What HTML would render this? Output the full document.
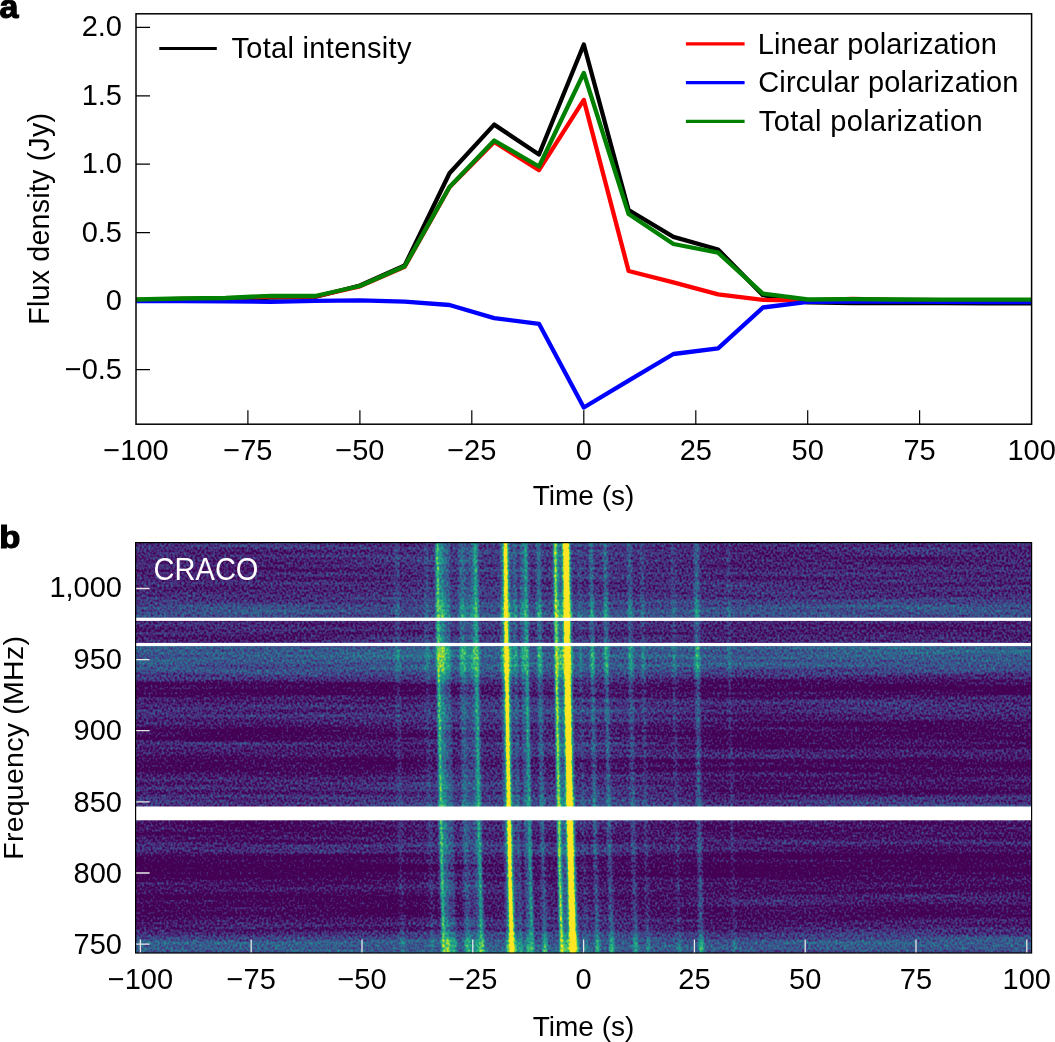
<!DOCTYPE html>
<html><head><meta charset="utf-8"><style>
html,body{margin:0;padding:0;background:#fff;width:1055px;height:1042px;overflow:hidden}
svg{display:block;will-change:transform}
text{font-family:"Liberation Sans", sans-serif;fill:#000}
</style></head><body>
<svg width="1055" height="1042" viewBox="0 0 1055 1042">

<text x="-0.6" y="17.9" style="font-weight:bold;font-size:34px;stroke:#000;stroke-width:1.2px">a</text>
<text transform="translate(-0.7,548.3) scale(1.08,1)" style="font-weight:bold;font-size:32px;stroke:#000;stroke-width:1.2px">b</text>
<text x="122" y="36.4" text-anchor="end" style="font-size:29px">2.0</text>
<text x="122" y="104.9" text-anchor="end" style="font-size:29px">1.5</text>
<text x="122" y="173.3" text-anchor="end" style="font-size:29px">1.0</text>
<text x="122" y="241.8" text-anchor="end" style="font-size:29px">0.5</text>
<text x="122" y="310.3" text-anchor="end" style="font-size:29px">0</text>
<text x="122" y="378.8" text-anchor="end" style="font-size:29px">−0.5</text>
<text x="136.0" y="460.4" text-anchor="middle" style="font-size:29px">−100</text>
<text x="247.9" y="460.4" text-anchor="middle" style="font-size:29px">−75</text>
<text x="359.9" y="460.4" text-anchor="middle" style="font-size:29px">−50</text>
<text x="471.8" y="460.4" text-anchor="middle" style="font-size:29px">−25</text>
<text x="583.8" y="460.4" text-anchor="middle" style="font-size:29px">0</text>
<text x="695.8" y="460.4" text-anchor="middle" style="font-size:29px">25</text>
<text x="807.7" y="460.4" text-anchor="middle" style="font-size:29px">50</text>
<text x="919.6" y="460.4" text-anchor="middle" style="font-size:29px">75</text>
<text x="1031.6" y="460.4" text-anchor="middle" style="font-size:29px">100</text>
<text x="583.5" y="504.9" text-anchor="middle" style="font-size:28px">Time (s)</text>
<text transform="translate(48.9,218.8) rotate(-90)" x="0" y="0" text-anchor="middle" style="font-size:28.6px;letter-spacing:0.22px">Flux density (Jy)</text>
<path d="M136 27.3H150 M136 95.8H150 M136 164.2H150 M136 232.7H150 M136 301.2H150 M136 369.7H150 M247.9 424.2V410.2 M359.9 424.2V410.2 M471.8 424.2V410.2 M583.8 424.2V410.2 M695.8 424.2V410.2 M807.7 424.2V410.2 M919.6 424.2V410.2" stroke="#000" stroke-width="1.2" fill="none"/>
<g fill="none" stroke-width="4.3" stroke-linejoin="round" stroke-linecap="butt">
<polyline points="136.0,300.5 180.8,300.0 225.6,299.5 270.3,297.5 315.1,297.0 359.9,285.5 404.7,265.5 449.5,173.3 494.2,124.6 539.0,154.5 583.8,44.5 628.6,210.0 673.4,236.9 718.1,249.5 762.9,295.2 807.7,302.3 852.5,303.0 897.3,303.0 942.0,303.2 986.8,303.3 1031.6,303.4" stroke="#000"/>
<polyline points="136.0,300.0 180.8,299.0 225.6,298.5 270.3,296.5 315.1,296.5 359.9,286.3 404.7,266.8 449.5,187.3 494.2,142.0 539.0,170.2 583.8,99.9 628.6,271.0 673.4,282.4 718.1,294.4 762.9,299.8 807.7,300.5 852.5,298.8 897.3,299.8 942.0,300.2 986.8,300.2 1031.6,300.2" stroke="#f00"/>
<polyline points="136.0,301.0 180.8,301.2 225.6,301.4 270.3,301.8 315.1,300.8 359.9,300.3 404.7,301.6 449.5,305.0 494.2,318.1 539.0,323.8 583.8,407.5 628.6,380.7 673.4,354.0 718.1,348.3 762.9,307.5 807.7,301.8 852.5,301.5 897.3,301.6 942.0,301.8 986.8,302.0 1031.6,302.2" stroke="#00f"/>
<polyline points="136.0,299.5 180.8,298.5 225.6,298.0 270.3,295.8 315.1,296.0 359.9,286.0 404.7,266.3 449.5,187.0 494.2,140.5 539.0,166.5 583.8,73.0 628.6,214.0 673.4,244.0 718.1,252.7 762.9,293.7 807.7,299.5 852.5,299.2 897.3,299.5 942.0,299.6 986.8,299.7 1031.6,299.7" stroke="#008000"/>
</g>
<g stroke-width="3.2">
<path d="M159.3 48.5H216.8" stroke="#000"/>
<path d="M685.9 43.8H744.6" stroke="#f00"/>
<path d="M685.9 82.6H744.6" stroke="#00f"/>
<path d="M685.9 121.4H744.6" stroke="#008000"/>
</g>
<text x="231.5" y="58" style="font-size:29px;letter-spacing:0.3px">Total intensity</text>
<text x="757.8" y="53.5" style="font-size:29px;letter-spacing:0.12px">Linear polarization</text>
<text x="758.2" y="92.2" style="font-size:29px;letter-spacing:0.2px">Circular polarization</text>
<text x="758.8" y="131" style="font-size:29px;letter-spacing:0.36px">Total polarization</text>
<rect x="136" y="13.8" width="895.5999999999999" height="410.4" fill="none" stroke="#000" stroke-width="1.5"/>
<defs>
<filter id="vf" x="135.6" y="542.6" width="895.9999999999999" height="410.4" filterUnits="userSpaceOnUse" color-interpolation-filters="sRGB">
<feTurbulence type="fractalNoise" baseFrequency="0.45 0.4" numOctaves="1" seed="7" result="n"/>
<feColorMatrix in="n" type="matrix" values="1 0 0 0 0 1 0 0 0 0 1 0 0 0 0 0 0 0 0 1" result="ng"/>
<feTurbulence type="fractalNoise" baseFrequency="0.006 0.22" numOctaves="1" seed="11" result="n2"/>
<feColorMatrix in="n2" type="matrix" values="1 0 0 0 0 1 0 0 0 0 1 0 0 0 0 0 0 0 0 1" result="ng2"/>
<feComposite in="ng" in2="ng2" operator="arithmetic" k1="0" k2="0.43" k3="0.17" k4="0.2" result="nn"/>
<feComposite in="SourceGraphic" in2="nn" operator="arithmetic" k1="0" k2="1" k3="1" k4="-0.5" result="sum"/>
<feComponentTransfer in="sum">
<feFuncR type="table" tableValues="0.267 0.267 0.267 0.267 0.267 0.267 0.267 0.267 0.267 0.267 0.270 0.277 0.281 0.283 0.283 0.280 0.274 0.267 0.257 0.247 0.236 0.224 0.214 0.203 0.192 0.182 0.173 0.164 0.155 0.146 0.139 0.131 0.124 0.120 0.120 0.126 0.140 0.162 0.191 0.220 0.260 0.304 0.352 0.404 0.459 0.516 0.576 0.627 0.689 0.752 0.815 0.876 0.936 0.993 0.993 0.993 0.993 0.993 0.993 0.993 0.993 0.993 0.993 0.993 0.993"/>
<feFuncG type="table" tableValues="0.005 0.005 0.005 0.005 0.005 0.005 0.005 0.005 0.005 0.005 0.015 0.050 0.084 0.116 0.141 0.171 0.200 0.228 0.256 0.283 0.310 0.335 0.356 0.380 0.403 0.426 0.449 0.471 0.493 0.515 0.534 0.556 0.578 0.600 0.622 0.644 0.666 0.687 0.708 0.726 0.745 0.765 0.783 0.800 0.816 0.831 0.845 0.855 0.865 0.875 0.883 0.891 0.899 0.906 0.906 0.906 0.906 0.906 0.906 0.906 0.906 0.906 0.906 0.906 0.906"/>
<feFuncB type="table" tableValues="0.329 0.329 0.329 0.329 0.329 0.329 0.329 0.329 0.329 0.329 0.341 0.376 0.407 0.436 0.458 0.480 0.499 0.514 0.527 0.536 0.543 0.548 0.551 0.554 0.556 0.557 0.558 0.558 0.558 0.557 0.555 0.552 0.548 0.543 0.535 0.525 0.513 0.499 0.482 0.466 0.444 0.420 0.393 0.363 0.330 0.294 0.256 0.223 0.183 0.143 0.110 0.095 0.108 0.144 0.144 0.144 0.144 0.144 0.144 0.144 0.144 0.144 0.144 0.144 0.144"/>
</feComponentTransfer>
</filter>
<filter id="sb" x="135.6" y="542.6" width="895.9999999999999" height="410.4" filterUnits="userSpaceOnUse" color-interpolation-filters="sRGB">
<feGaussianBlur stdDeviation="0.9"/>
</filter>

<linearGradient id="bgl" gradientUnits="userSpaceOnUse" x1="0" y1="542.6" x2="0" y2="953.0">
<stop offset="0.0000" stop-color="rgb(61,61,61)"/>
<stop offset="0.0327" stop-color="rgb(59,59,59)"/>
<stop offset="0.0473" stop-color="rgb(54,54,54)"/>
<stop offset="0.1204" stop-color="rgb(56,56,56)"/>
<stop offset="0.1447" stop-color="rgb(68,68,68)"/>
<stop offset="0.1642" stop-color="rgb(76,76,76)"/>
<stop offset="0.1825" stop-color="rgb(80,80,80)"/>
<stop offset="0.1918" stop-color="rgb(56,56,56)"/>
<stop offset="0.2178" stop-color="rgb(52,52,52)"/>
<stop offset="0.2446" stop-color="rgb(56,56,56)"/>
<stop offset="0.2519" stop-color="rgb(87,87,87)"/>
<stop offset="0.2861" stop-color="rgb(87,87,87)"/>
<stop offset="0.3104" stop-color="rgb(80,80,80)"/>
<stop offset="0.3275" stop-color="rgb(66,66,66)"/>
<stop offset="0.3421" stop-color="rgb(45,45,45)"/>
<stop offset="0.3494" stop-color="rgb(33,33,33)"/>
<stop offset="0.3713" stop-color="rgb(35,35,35)"/>
<stop offset="0.3811" stop-color="rgb(54,54,54)"/>
<stop offset="0.4128" stop-color="rgb(59,59,59)"/>
<stop offset="0.4371" stop-color="rgb(57,57,57)"/>
<stop offset="0.4493" stop-color="rgb(43,43,43)"/>
<stop offset="0.4639" stop-color="rgb(37,37,37)"/>
<stop offset="0.4810" stop-color="rgb(38,38,38)"/>
<stop offset="0.4907" stop-color="rgb(59,59,59)"/>
<stop offset="0.5005" stop-color="rgb(52,52,52)"/>
<stop offset="0.5175" stop-color="rgb(50,50,50)"/>
<stop offset="0.5273" stop-color="rgb(35,35,35)"/>
<stop offset="0.5517" stop-color="rgb(35,35,35)"/>
<stop offset="0.5663" stop-color="rgb(50,50,50)"/>
<stop offset="0.5955" stop-color="rgb(56,56,56)"/>
<stop offset="0.6150" stop-color="rgb(56,56,56)"/>
<stop offset="0.6321" stop-color="rgb(64,64,64)"/>
<stop offset="0.6430" stop-color="rgb(66,66,66)"/>
<stop offset="0.6767" stop-color="rgb(45,45,45)"/>
<stop offset="0.7125" stop-color="rgb(42,42,42)"/>
<stop offset="0.7271" stop-color="rgb(45,45,45)"/>
<stop offset="0.7368" stop-color="rgb(61,61,61)"/>
<stop offset="0.7539" stop-color="rgb(59,59,59)"/>
<stop offset="0.7636" stop-color="rgb(31,31,31)"/>
<stop offset="0.8173" stop-color="rgb(30,30,30)"/>
<stop offset="0.8319" stop-color="rgb(45,45,45)"/>
<stop offset="0.8489" stop-color="rgb(45,45,45)"/>
<stop offset="0.8587" stop-color="rgb(35,35,35)"/>
<stop offset="0.9074" stop-color="rgb(37,37,37)"/>
<stop offset="0.9196" stop-color="rgb(47,47,47)"/>
<stop offset="0.9440" stop-color="rgb(50,50,50)"/>
<stop offset="0.9586" stop-color="rgb(66,66,66)"/>
<stop offset="0.9732" stop-color="rgb(87,87,87)"/>
<stop offset="0.9927" stop-color="rgb(90,90,90)"/>
<stop offset="1.0000" stop-color="rgb(82,82,82)"/>
</linearGradient>
<linearGradient id="bgr" gradientUnits="userSpaceOnUse" x1="0" y1="542.6" x2="0" y2="953.0">
<stop offset="0.0000" stop-color="rgb(61,61,61)"/>
<stop offset="0.0229" stop-color="rgb(59,59,59)"/>
<stop offset="0.0375" stop-color="rgb(50,50,50)"/>
<stop offset="0.0546" stop-color="rgb(56,56,56)"/>
<stop offset="0.1155" stop-color="rgb(57,57,57)"/>
<stop offset="0.1399" stop-color="rgb(66,66,66)"/>
<stop offset="0.1545" stop-color="rgb(78,78,78)"/>
<stop offset="0.1825" stop-color="rgb(82,82,82)"/>
<stop offset="0.1918" stop-color="rgb(56,56,56)"/>
<stop offset="0.2178" stop-color="rgb(52,52,52)"/>
<stop offset="0.2446" stop-color="rgb(57,57,57)"/>
<stop offset="0.2519" stop-color="rgb(90,90,90)"/>
<stop offset="0.2812" stop-color="rgb(90,90,90)"/>
<stop offset="0.3056" stop-color="rgb(78,78,78)"/>
<stop offset="0.3250" stop-color="rgb(64,64,64)"/>
<stop offset="0.3372" stop-color="rgb(42,42,42)"/>
<stop offset="0.3543" stop-color="rgb(31,31,31)"/>
<stop offset="0.3689" stop-color="rgb(37,37,37)"/>
<stop offset="0.3811" stop-color="rgb(56,56,56)"/>
<stop offset="0.4030" stop-color="rgb(61,61,61)"/>
<stop offset="0.4225" stop-color="rgb(57,57,57)"/>
<stop offset="0.4347" stop-color="rgb(38,38,38)"/>
<stop offset="0.4688" stop-color="rgb(40,40,40)"/>
<stop offset="0.4932" stop-color="rgb(38,38,38)"/>
<stop offset="0.5054" stop-color="rgb(52,52,52)"/>
<stop offset="0.5249" stop-color="rgb(50,50,50)"/>
<stop offset="0.5346" stop-color="rgb(35,35,35)"/>
<stop offset="0.5541" stop-color="rgb(35,35,35)"/>
<stop offset="0.5663" stop-color="rgb(47,47,47)"/>
<stop offset="0.5931" stop-color="rgb(47,47,47)"/>
<stop offset="0.6028" stop-color="rgb(37,37,37)"/>
<stop offset="0.6174" stop-color="rgb(56,56,56)"/>
<stop offset="0.6321" stop-color="rgb(66,66,66)"/>
<stop offset="0.6430" stop-color="rgb(68,68,68)"/>
<stop offset="0.6767" stop-color="rgb(49,49,49)"/>
<stop offset="0.7003" stop-color="rgb(47,47,47)"/>
<stop offset="0.7125" stop-color="rgb(38,38,38)"/>
<stop offset="0.7247" stop-color="rgb(52,52,52)"/>
<stop offset="0.7442" stop-color="rgb(52,52,52)"/>
<stop offset="0.7539" stop-color="rgb(33,33,33)"/>
<stop offset="0.7978" stop-color="rgb(31,31,31)"/>
<stop offset="0.8221" stop-color="rgb(42,42,42)"/>
<stop offset="0.8514" stop-color="rgb(42,42,42)"/>
<stop offset="0.8635" stop-color="rgb(52,52,52)"/>
<stop offset="0.8830" stop-color="rgb(50,50,50)"/>
<stop offset="0.8928" stop-color="rgb(38,38,38)"/>
<stop offset="0.9123" stop-color="rgb(40,40,40)"/>
<stop offset="0.9220" stop-color="rgb(50,50,50)"/>
<stop offset="0.9415" stop-color="rgb(52,52,52)"/>
<stop offset="0.9537" stop-color="rgb(69,69,69)"/>
<stop offset="0.9732" stop-color="rgb(87,87,87)"/>
<stop offset="0.9878" stop-color="rgb(87,87,87)"/>
<stop offset="1.0000" stop-color="rgb(76,76,76)"/>
</linearGradient>
<linearGradient id="hb" gradientUnits="userSpaceOnUse" x1="600" y1="0" x2="780" y2="0"><stop offset="0" stop-color="#000"/><stop offset="1" stop-color="#fff"/></linearGradient>
<mask id="hbm" maskUnits="userSpaceOnUse" x="135.6" y="542.6" width="895.9999999999999" height="410.4"><rect x="135.6" y="542.6" width="895.9999999999999" height="410.4" fill="url(#hb)"/></mask>
<linearGradient id="dg" gradientUnits="userSpaceOnUse" x1="135.6" y1="0" x2="1031.6" y2="0">
<stop offset="0.0000" stop-color="rgb(0,0,0)"/>
<stop offset="0.2951" stop-color="rgb(0,0,0)"/>
<stop offset="0.3342" stop-color="rgb(36,36,36)"/>
<stop offset="0.3732" stop-color="rgb(56,56,56)"/>
<stop offset="0.5183" stop-color="rgb(56,56,56)"/>
<stop offset="0.5629" stop-color="rgb(31,31,31)"/>
<stop offset="0.6299" stop-color="rgb(15,15,15)"/>
<stop offset="0.6690" stop-color="rgb(0,0,0)"/>
</linearGradient>
<mask id="dgm" maskUnits="userSpaceOnUse" x="135.6" y="542.6" width="895.9999999999999" height="410.4"><rect x="135.6" y="542.6" width="895.9999999999999" height="410.4" fill="url(#dg)"/></mask>
<linearGradient id="mg" gradientUnits="userSpaceOnUse" x1="0" y1="542.6" x2="0" y2="953.0">
<stop offset="0.0000" stop-color="rgb(203,203,203)"/>
<stop offset="0.0327" stop-color="rgb(199,199,199)"/>
<stop offset="0.0473" stop-color="rgb(187,187,187)"/>
<stop offset="0.1204" stop-color="rgb(191,191,191)"/>
<stop offset="0.1447" stop-color="rgb(218,218,218)"/>
<stop offset="0.1642" stop-color="rgb(237,237,237)"/>
<stop offset="0.1825" stop-color="rgb(245,245,245)"/>
<stop offset="0.1918" stop-color="rgb(191,191,191)"/>
<stop offset="0.2178" stop-color="rgb(184,184,184)"/>
<stop offset="0.2446" stop-color="rgb(191,191,191)"/>
<stop offset="0.2519" stop-color="rgb(255,255,255)"/>
<stop offset="0.2861" stop-color="rgb(255,255,255)"/>
<stop offset="0.3104" stop-color="rgb(245,245,245)"/>
<stop offset="0.3275" stop-color="rgb(214,214,214)"/>
<stop offset="0.3421" stop-color="rgb(168,168,168)"/>
<stop offset="0.3494" stop-color="rgb(142,142,142)"/>
<stop offset="0.3713" stop-color="rgb(145,145,145)"/>
<stop offset="0.3811" stop-color="rgb(187,187,187)"/>
<stop offset="0.4128" stop-color="rgb(199,199,199)"/>
<stop offset="0.4371" stop-color="rgb(195,195,195)"/>
<stop offset="0.4493" stop-color="rgb(164,164,164)"/>
<stop offset="0.4639" stop-color="rgb(149,149,149)"/>
<stop offset="0.4810" stop-color="rgb(153,153,153)"/>
<stop offset="0.4907" stop-color="rgb(199,199,199)"/>
<stop offset="0.5005" stop-color="rgb(184,184,184)"/>
<stop offset="0.5175" stop-color="rgb(180,180,180)"/>
<stop offset="0.5273" stop-color="rgb(145,145,145)"/>
<stop offset="0.5517" stop-color="rgb(145,145,145)"/>
<stop offset="0.5663" stop-color="rgb(180,180,180)"/>
<stop offset="0.5955" stop-color="rgb(191,191,191)"/>
<stop offset="0.6150" stop-color="rgb(191,191,191)"/>
<stop offset="0.6321" stop-color="rgb(210,210,210)"/>
<stop offset="0.6430" stop-color="rgb(214,214,214)"/>
<stop offset="0.6767" stop-color="rgb(168,168,168)"/>
<stop offset="0.7125" stop-color="rgb(161,161,161)"/>
<stop offset="0.7271" stop-color="rgb(168,168,168)"/>
<stop offset="0.7368" stop-color="rgb(203,203,203)"/>
<stop offset="0.7539" stop-color="rgb(199,199,199)"/>
<stop offset="0.7636" stop-color="rgb(138,138,138)"/>
<stop offset="0.8173" stop-color="rgb(134,134,134)"/>
<stop offset="0.8319" stop-color="rgb(168,168,168)"/>
<stop offset="0.8489" stop-color="rgb(168,168,168)"/>
<stop offset="0.8587" stop-color="rgb(145,145,145)"/>
<stop offset="0.9074" stop-color="rgb(149,149,149)"/>
<stop offset="0.9196" stop-color="rgb(172,172,172)"/>
<stop offset="0.9440" stop-color="rgb(180,180,180)"/>
<stop offset="0.9586" stop-color="rgb(214,214,214)"/>
<stop offset="0.9732" stop-color="rgb(255,255,255)"/>
<stop offset="0.9927" stop-color="rgb(255,255,255)"/>
<stop offset="1.0000" stop-color="rgb(249,249,249)"/>
</linearGradient>
<linearGradient id="bmg" gradientUnits="userSpaceOnUse" x1="0" y1="542.6" x2="0" y2="953.0">
<stop offset="0.0000" stop-color="rgb(13,13,13)"/>
<stop offset="0.0327" stop-color="rgb(0,0,0)"/>
<stop offset="0.0473" stop-color="rgb(0,0,0)"/>
<stop offset="0.1204" stop-color="rgb(0,0,0)"/>
<stop offset="0.1447" stop-color="rgb(64,64,64)"/>
<stop offset="0.1642" stop-color="rgb(128,128,128)"/>
<stop offset="0.1825" stop-color="rgb(153,153,153)"/>
<stop offset="0.1918" stop-color="rgb(0,0,0)"/>
<stop offset="0.2178" stop-color="rgb(0,0,0)"/>
<stop offset="0.2446" stop-color="rgb(0,0,0)"/>
<stop offset="0.2519" stop-color="rgb(204,204,204)"/>
<stop offset="0.2861" stop-color="rgb(204,204,204)"/>
<stop offset="0.3104" stop-color="rgb(153,153,153)"/>
<stop offset="0.3275" stop-color="rgb(51,51,51)"/>
<stop offset="0.3421" stop-color="rgb(0,0,0)"/>
<stop offset="0.3494" stop-color="rgb(0,0,0)"/>
<stop offset="0.3713" stop-color="rgb(0,0,0)"/>
<stop offset="0.3811" stop-color="rgb(0,0,0)"/>
<stop offset="0.4128" stop-color="rgb(0,0,0)"/>
<stop offset="0.4371" stop-color="rgb(0,0,0)"/>
<stop offset="0.4493" stop-color="rgb(0,0,0)"/>
<stop offset="0.4639" stop-color="rgb(0,0,0)"/>
<stop offset="0.4810" stop-color="rgb(0,0,0)"/>
<stop offset="0.4907" stop-color="rgb(0,0,0)"/>
<stop offset="0.5005" stop-color="rgb(0,0,0)"/>
<stop offset="0.5175" stop-color="rgb(0,0,0)"/>
<stop offset="0.5273" stop-color="rgb(0,0,0)"/>
<stop offset="0.5517" stop-color="rgb(0,0,0)"/>
<stop offset="0.5663" stop-color="rgb(0,0,0)"/>
<stop offset="0.5955" stop-color="rgb(0,0,0)"/>
<stop offset="0.6150" stop-color="rgb(0,0,0)"/>
<stop offset="0.6321" stop-color="rgb(38,38,38)"/>
<stop offset="0.6430" stop-color="rgb(51,51,51)"/>
<stop offset="0.6767" stop-color="rgb(0,0,0)"/>
<stop offset="0.7125" stop-color="rgb(0,0,0)"/>
<stop offset="0.7271" stop-color="rgb(0,0,0)"/>
<stop offset="0.7368" stop-color="rgb(13,13,13)"/>
<stop offset="0.7539" stop-color="rgb(0,0,0)"/>
<stop offset="0.7636" stop-color="rgb(0,0,0)"/>
<stop offset="0.8173" stop-color="rgb(0,0,0)"/>
<stop offset="0.8319" stop-color="rgb(0,0,0)"/>
<stop offset="0.8489" stop-color="rgb(0,0,0)"/>
<stop offset="0.8587" stop-color="rgb(0,0,0)"/>
<stop offset="0.9074" stop-color="rgb(0,0,0)"/>
<stop offset="0.9196" stop-color="rgb(0,0,0)"/>
<stop offset="0.9440" stop-color="rgb(0,0,0)"/>
<stop offset="0.9586" stop-color="rgb(51,51,51)"/>
<stop offset="0.9732" stop-color="rgb(204,204,204)"/>
<stop offset="0.9927" stop-color="rgb(229,229,229)"/>
<stop offset="1.0000" stop-color="rgb(166,166,166)"/>
</linearGradient>
<mask id="bm" maskUnits="userSpaceOnUse" x="135.6" y="542.6" width="895.9999999999999" height="410.4"><rect x="135.6" y="542.6" width="895.9999999999999" height="410.4" fill="url(#bmg)"/></mask>
<mask id="mm" maskUnits="userSpaceOnUse" x="135.6" y="542.6" width="895.9999999999999" height="410.4"><rect x="135.6" y="542.6" width="895.9999999999999" height="410.4" fill="url(#mg)"/></mask>
</defs>
<g filter="url(#vf)">
<rect x="135.6" y="542.6" width="895.9999999999999" height="410.4" fill="url(#bgl)"/>
<rect x="135.6" y="542.6" width="895.9999999999999" height="410.4" fill="url(#bgr)" mask="url(#hbm)"/>
<rect x="135.6" y="542.6" width="895.9999999999999" height="410.4" fill="rgb(99,99,99)" mask="url(#dgm)"/>
<g filter="url(#sb)" mask="url(#mm)">
<path d="M394.0 542.6 L394.3 576.8 L394.7 611.0 L395.1 645.2 L395.5 679.4 L396.0 713.6 L396.5 747.8 L397.0 782.0 L397.6 816.2 L398.2 850.4 L398.9 884.6 L399.7 918.8 L400.5 953.0 L405.5 953.0 L404.7 918.8 L403.9 884.6 L403.2 850.4 L402.6 816.2 L402.0 782.0 L401.5 747.8 L401.0 713.6 L400.5 679.4 L400.1 645.2 L399.7 611.0 L399.3 576.8 L399.0 542.6Z" fill="rgb(90,90,90)" opacity="0.6"/>
<path d="M424.0 542.6 L424.3 576.8 L424.7 611.0 L425.1 645.2 L425.5 679.4 L426.0 713.6 L426.5 747.8 L427.0 782.0 L427.6 816.2 L428.2 850.4 L428.9 884.6 L429.7 918.8 L430.5 953.0 L434.5 953.0 L433.7 918.8 L432.9 884.6 L432.2 850.4 L431.6 816.2 L431.0 782.0 L430.5 747.8 L430.0 713.6 L429.5 679.4 L429.1 645.2 L428.7 611.0 L428.3 576.8 L428.0 542.6Z" fill="rgb(90,90,90)" opacity="0.6"/>
<path d="M435.0 542.6 L435.3 576.8 L435.7 611.0 L436.1 645.2 L436.5 679.4 L437.0 713.6 L437.5 747.8 L438.0 782.0 L438.6 816.2 L439.2 850.4 L439.9 884.6 L440.7 918.8 L441.5 953.0 L456.5 953.0 L455.5 918.8 L454.7 884.6 L453.9 850.4 L453.1 816.2 L452.5 782.0 L451.8 747.8 L451.3 713.6 L450.7 679.4 L450.3 645.2 L449.8 611.0 L449.4 576.8 L449.0 542.6Z" fill="rgb(111,111,111)" opacity="0.8"/>
<path d="M440.3 542.6 L440.6 576.8 L441.0 611.0 L441.4 645.2 L441.8 679.4 L442.3 713.6 L442.8 747.8 L443.3 782.0 L443.9 816.2 L444.5 850.4 L445.2 884.6 L446.0 918.8 L446.8 953.0 L449.2 953.0 L448.4 918.8 L447.6 884.6 L446.9 850.4 L446.3 816.2 L445.7 782.0 L445.2 747.8 L444.7 713.6 L444.2 679.4 L443.8 645.2 L443.4 611.0 L443.0 576.8 L442.7 542.6Z" fill="rgb(163,163,163)" opacity="0.9"/>
<path d="M459.0 542.6 L459.3 576.8 L459.6 611.0 L460.0 645.2 L460.4 679.4 L460.8 713.6 L461.3 747.8 L461.8 782.0 L462.3 816.2 L462.9 850.4 L463.5 884.6 L464.2 918.8 L465.0 953.0 L485.0 953.0 L484.0 918.8 L483.0 884.6 L482.2 850.4 L481.4 816.2 L480.7 782.0 L480.0 747.8 L479.4 713.6 L478.9 679.4 L478.3 645.2 L477.9 611.0 L477.4 576.8 L477.0 542.6Z" fill="rgb(97,97,97)" opacity="0.6"/>
<path d="M459.0 542.6 L459.3 576.8 L459.7 611.0 L460.1 645.2 L460.5 679.4 L461.0 713.6 L461.5 747.8 L462.0 782.0 L462.6 816.2 L463.2 850.4 L463.9 884.6 L464.7 918.8 L465.5 953.0 L470.5 953.0 L469.7 918.8 L468.9 884.6 L468.2 850.4 L467.6 816.2 L467.0 782.0 L466.5 747.8 L466.0 713.6 L465.5 679.4 L465.1 645.2 L464.7 611.0 L464.3 576.8 L464.0 542.6Z" fill="rgb(116,116,116)" opacity="0.8"/>
<path d="M471.0 542.6 L471.3 576.8 L471.7 611.0 L472.1 645.2 L472.5 679.4 L473.0 713.6 L473.5 747.8 L474.0 782.0 L474.6 816.2 L475.2 850.4 L475.9 884.6 L476.7 918.8 L477.5 953.0 L484.5 953.0 L483.7 918.8 L482.9 884.6 L482.2 850.4 L481.6 816.2 L481.0 782.0 L480.5 747.8 L480.0 713.6 L479.5 679.4 L479.1 645.2 L478.7 611.0 L478.3 576.8 L478.0 542.6Z" fill="rgb(116,116,116)" opacity="0.85"/>
<path d="M500.4 542.6 L500.7 576.8 L501.0 611.0 L501.4 645.2 L501.8 679.4 L502.2 713.6 L502.7 747.8 L503.2 782.0 L503.7 816.2 L504.3 850.4 L504.9 884.6 L505.6 918.8 L506.4 953.0 L517.4 953.0 L516.5 918.8 L515.7 884.6 L514.9 850.4 L514.3 816.2 L513.6 782.0 L513.1 747.8 L512.5 713.6 L512.0 679.4 L511.6 645.2 L511.2 611.0 L510.8 576.8 L510.4 542.6Z" fill="rgb(125,125,125)" opacity="0.8"/>
<path d="M512.4 542.6 L512.7 576.8 L513.1 611.0 L513.5 645.2 L513.9 679.4 L514.4 713.6 L514.9 747.8 L515.4 782.0 L516.0 816.2 L516.6 850.4 L517.3 884.6 L518.1 918.8 L518.9 953.0 L522.9 953.0 L522.1 918.8 L521.3 884.6 L520.6 850.4 L520.0 816.2 L519.4 782.0 L518.9 747.8 L518.4 713.6 L517.9 679.4 L517.5 645.2 L517.1 611.0 L516.7 576.8 L516.4 542.6Z" fill="rgb(116,116,116)" opacity="0.75"/>
<path d="M520.0 542.6 L520.3 576.8 L520.7 611.0 L521.1 645.2 L521.5 679.4 L522.0 713.6 L522.5 747.8 L523.0 782.0 L523.6 816.2 L524.2 850.4 L524.9 884.6 L525.7 918.8 L526.5 953.0 L533.5 953.0 L532.7 918.8 L531.9 884.6 L531.2 850.4 L530.6 816.2 L530.0 782.0 L529.5 747.8 L529.0 713.6 L528.5 679.4 L528.1 645.2 L527.7 611.0 L527.3 576.8 L527.0 542.6Z" fill="rgb(116,116,116)" opacity="0.8"/>
<path d="M536.6 542.6 L536.9 576.8 L537.3 611.0 L537.7 645.2 L538.1 679.4 L538.6 713.6 L539.1 747.8 L539.6 782.0 L540.2 816.2 L540.8 850.4 L541.5 884.6 L542.3 918.8 L543.1 953.0 L547.1 953.0 L546.3 918.8 L545.5 884.6 L544.8 850.4 L544.2 816.2 L543.6 782.0 L543.1 747.8 L542.6 713.6 L542.1 679.4 L541.7 645.2 L541.3 611.0 L540.9 576.8 L540.6 542.6Z" fill="rgb(125,125,125)" opacity="0.85"/>
<path d="M555.0 542.6 L555.3 576.8 L555.6 611.0 L556.0 645.2 L556.4 679.4 L556.8 713.6 L557.3 747.8 L557.8 782.0 L558.3 816.2 L558.9 850.4 L559.5 884.6 L560.2 918.8 L561.0 953.0 L579.0 953.0 L578.0 918.8 L577.0 884.6 L576.2 850.4 L575.4 816.2 L574.7 782.0 L574.0 747.8 L573.4 713.6 L572.9 679.4 L572.3 645.2 L571.9 611.0 L571.4 576.8 L571.0 542.6Z" fill="rgb(125,125,125)" opacity="0.85"/>
<path d="M577.5 542.6 L577.8 576.8 L578.2 611.0 L578.6 645.2 L579.0 679.4 L579.5 713.6 L580.0 747.8 L580.5 782.0 L581.1 816.2 L581.7 850.4 L582.4 884.6 L583.2 918.8 L584.0 953.0 L588.0 953.0 L587.2 918.8 L586.4 884.6 L585.7 850.4 L585.1 816.2 L584.5 782.0 L584.0 747.8 L583.5 713.6 L583.0 679.4 L582.6 645.2 L582.2 611.0 L581.8 576.8 L581.5 542.6Z" fill="rgb(90,90,90)" opacity="0.6"/>
<path d="M589.6 542.6 L589.9 576.8 L590.3 611.0 L590.7 645.2 L591.1 679.4 L591.6 713.6 L592.1 747.8 L592.6 782.0 L593.2 816.2 L593.8 850.4 L594.5 884.6 L595.3 918.8 L596.1 953.0 L599.3 953.0 L598.5 918.8 L597.7 884.6 L597.0 850.4 L596.4 816.2 L595.8 782.0 L595.3 747.8 L594.8 713.6 L594.3 679.4 L593.9 645.2 L593.5 611.0 L593.1 576.8 L592.8 542.6Z" fill="rgb(125,125,125)" opacity="0.9"/>
<path d="M603.1 542.6 L603.5 576.8 L603.9 611.0 L604.3 645.2 L604.7 679.4 L605.2 713.6 L605.8 747.8 L606.3 782.0 L607.0 816.2 L607.6 850.4 L608.4 884.6 L609.2 918.8 L610.1 953.0 L614.1 953.0 L613.2 918.8 L612.4 884.6 L611.6 850.4 L611.0 816.2 L610.3 782.0 L609.8 747.8 L609.2 713.6 L608.7 679.4 L608.3 645.2 L607.9 611.0 L607.5 576.8 L607.1 542.6Z" fill="rgb(121,121,121)" opacity="0.85"/>
<path d="M627.4 542.6 L627.7 576.8 L628.1 611.0 L628.5 645.2 L628.9 679.4 L629.4 713.6 L629.9 747.8 L630.4 782.0 L631.0 816.2 L631.6 850.4 L632.3 884.6 L633.1 918.8 L633.9 953.0 L638.1 953.0 L637.3 918.8 L636.5 884.6 L635.8 850.4 L635.2 816.2 L634.6 782.0 L634.1 747.8 L633.6 713.6 L633.1 679.4 L632.7 645.2 L632.3 611.0 L631.9 576.8 L631.6 542.6Z" fill="rgb(108,108,108)" opacity="0.8"/>
<path d="M640.5 542.6 L640.8 576.8 L641.2 611.0 L641.6 645.2 L642.0 679.4 L642.5 713.6 L643.0 747.8 L643.5 782.0 L644.1 816.2 L644.7 850.4 L645.4 884.6 L646.2 918.8 L647.0 953.0 L650.0 953.0 L649.2 918.8 L648.4 884.6 L647.7 850.4 L647.1 816.2 L646.5 782.0 L646.0 747.8 L645.5 713.6 L645.0 679.4 L644.6 645.2 L644.2 611.0 L643.8 576.8 L643.5 542.6Z" fill="rgb(97,97,97)" opacity="0.7"/>
<path d="M671.0 542.6 L671.3 576.8 L671.7 611.0 L672.1 645.2 L672.5 679.4 L673.0 713.6 L673.5 747.8 L674.0 782.0 L674.6 816.2 L675.2 850.4 L675.9 884.6 L676.7 918.8 L677.5 953.0 L681.5 953.0 L680.7 918.8 L679.9 884.6 L679.2 850.4 L678.6 816.2 L678.0 782.0 L677.5 747.8 L677.0 713.6 L676.5 679.4 L676.1 645.2 L675.7 611.0 L675.3 576.8 L675.0 542.6Z" fill="rgb(90,90,90)" opacity="0.6"/>
<path d="M694.1 542.6 L694.4 576.8 L694.6 611.0 L694.9 645.2 L695.3 679.4 L695.6 713.6 L696.0 747.8 L696.4 782.0 L696.9 816.2 L697.3 850.4 L697.9 884.6 L698.5 918.8 L699.1 953.0 L703.7 953.0 L703.1 918.8 L702.5 884.6 L701.9 850.4 L701.5 816.2 L701.0 782.0 L700.6 747.8 L700.2 713.6 L699.9 679.4 L699.5 645.2 L699.2 611.0 L699.0 576.8 L698.7 542.6Z" fill="rgb(116,116,116)" opacity="0.85"/>
<path d="M726.6 542.6 L727.0 576.8 L727.4 611.0 L727.7 645.2 L728.2 679.4 L728.6 713.6 L729.1 747.8 L729.7 782.0 L730.2 816.2 L730.9 850.4 L731.6 884.6 L732.3 918.8 L733.1 953.0 L736.4 953.0 L735.6 918.8 L734.9 884.6 L734.2 850.4 L733.5 816.2 L733.0 782.0 L732.4 747.8 L731.9 713.6 L731.5 679.4 L731.0 645.2 L730.7 611.0 L730.3 576.8 L729.9 542.6Z" fill="rgb(90,90,90)" opacity="0.6"/>
</g>
<g filter="url(#sb)" mask="url(#bm)">
<path d="M394.0 542.6 L394.3 576.8 L394.7 611.0 L395.1 645.2 L395.5 679.4 L396.0 713.6 L396.5 747.8 L397.0 782.0 L397.6 816.2 L398.2 850.4 L398.9 884.6 L399.7 918.8 L400.5 953.0 L405.5 953.0 L404.7 918.8 L403.9 884.6 L403.2 850.4 L402.6 816.2 L402.0 782.0 L401.5 747.8 L401.0 713.6 L400.5 679.4 L400.1 645.2 L399.7 611.0 L399.3 576.8 L399.0 542.6Z" fill="rgb(142,142,142)" opacity="0.6"/>
<path d="M424.0 542.6 L424.3 576.8 L424.7 611.0 L425.1 645.2 L425.5 679.4 L426.0 713.6 L426.5 747.8 L427.0 782.0 L427.6 816.2 L428.2 850.4 L428.9 884.6 L429.7 918.8 L430.5 953.0 L434.5 953.0 L433.7 918.8 L432.9 884.6 L432.2 850.4 L431.6 816.2 L431.0 782.0 L430.5 747.8 L430.0 713.6 L429.5 679.4 L429.1 645.2 L428.7 611.0 L428.3 576.8 L428.0 542.6Z" fill="rgb(142,142,142)" opacity="0.6"/>
<path d="M435.0 542.6 L435.3 576.8 L435.7 611.0 L436.1 645.2 L436.5 679.4 L437.0 713.6 L437.5 747.8 L438.0 782.0 L438.6 816.2 L439.2 850.4 L439.9 884.6 L440.7 918.8 L441.5 953.0 L456.5 953.0 L455.5 918.8 L454.7 884.6 L453.9 850.4 L453.1 816.2 L452.5 782.0 L451.8 747.8 L451.3 713.6 L450.7 679.4 L450.3 645.2 L449.8 611.0 L449.4 576.8 L449.0 542.6Z" fill="rgb(163,163,163)" opacity="0.8"/>
<path d="M440.3 542.6 L440.6 576.8 L441.0 611.0 L441.4 645.2 L441.8 679.4 L442.3 713.6 L442.8 747.8 L443.3 782.0 L443.9 816.2 L444.5 850.4 L445.2 884.6 L446.0 918.8 L446.8 953.0 L449.2 953.0 L448.4 918.8 L447.6 884.6 L446.9 850.4 L446.3 816.2 L445.7 782.0 L445.2 747.8 L444.7 713.6 L444.2 679.4 L443.8 645.2 L443.4 611.0 L443.0 576.8 L442.7 542.6Z" fill="rgb(215,215,215)" opacity="0.9"/>
<path d="M459.0 542.6 L459.3 576.8 L459.6 611.0 L460.0 645.2 L460.4 679.4 L460.8 713.6 L461.3 747.8 L461.8 782.0 L462.3 816.2 L462.9 850.4 L463.5 884.6 L464.2 918.8 L465.0 953.0 L485.0 953.0 L484.0 918.8 L483.0 884.6 L482.2 850.4 L481.4 816.2 L480.7 782.0 L480.0 747.8 L479.4 713.6 L478.9 679.4 L478.3 645.2 L477.9 611.0 L477.4 576.8 L477.0 542.6Z" fill="rgb(149,149,149)" opacity="0.6"/>
<path d="M459.0 542.6 L459.3 576.8 L459.7 611.0 L460.1 645.2 L460.5 679.4 L461.0 713.6 L461.5 747.8 L462.0 782.0 L462.6 816.2 L463.2 850.4 L463.9 884.6 L464.7 918.8 L465.5 953.0 L470.5 953.0 L469.7 918.8 L468.9 884.6 L468.2 850.4 L467.6 816.2 L467.0 782.0 L466.5 747.8 L466.0 713.6 L465.5 679.4 L465.1 645.2 L464.7 611.0 L464.3 576.8 L464.0 542.6Z" fill="rgb(168,168,168)" opacity="0.8"/>
<path d="M471.0 542.6 L471.3 576.8 L471.7 611.0 L472.1 645.2 L472.5 679.4 L473.0 713.6 L473.5 747.8 L474.0 782.0 L474.6 816.2 L475.2 850.4 L475.9 884.6 L476.7 918.8 L477.5 953.0 L484.5 953.0 L483.7 918.8 L482.9 884.6 L482.2 850.4 L481.6 816.2 L481.0 782.0 L480.5 747.8 L480.0 713.6 L479.5 679.4 L479.1 645.2 L478.7 611.0 L478.3 576.8 L478.0 542.6Z" fill="rgb(168,168,168)" opacity="0.85"/>
<path d="M500.4 542.6 L500.7 576.8 L501.0 611.0 L501.4 645.2 L501.8 679.4 L502.2 713.6 L502.7 747.8 L503.2 782.0 L503.7 816.2 L504.3 850.4 L504.9 884.6 L505.6 918.8 L506.4 953.0 L517.4 953.0 L516.5 918.8 L515.7 884.6 L514.9 850.4 L514.3 816.2 L513.6 782.0 L513.1 747.8 L512.5 713.6 L512.0 679.4 L511.6 645.2 L511.2 611.0 L510.8 576.8 L510.4 542.6Z" fill="rgb(177,177,177)" opacity="0.8"/>
<path d="M512.4 542.6 L512.7 576.8 L513.1 611.0 L513.5 645.2 L513.9 679.4 L514.4 713.6 L514.9 747.8 L515.4 782.0 L516.0 816.2 L516.6 850.4 L517.3 884.6 L518.1 918.8 L518.9 953.0 L522.9 953.0 L522.1 918.8 L521.3 884.6 L520.6 850.4 L520.0 816.2 L519.4 782.0 L518.9 747.8 L518.4 713.6 L517.9 679.4 L517.5 645.2 L517.1 611.0 L516.7 576.8 L516.4 542.6Z" fill="rgb(168,168,168)" opacity="0.75"/>
<path d="M520.0 542.6 L520.3 576.8 L520.7 611.0 L521.1 645.2 L521.5 679.4 L522.0 713.6 L522.5 747.8 L523.0 782.0 L523.6 816.2 L524.2 850.4 L524.9 884.6 L525.7 918.8 L526.5 953.0 L533.5 953.0 L532.7 918.8 L531.9 884.6 L531.2 850.4 L530.6 816.2 L530.0 782.0 L529.5 747.8 L529.0 713.6 L528.5 679.4 L528.1 645.2 L527.7 611.0 L527.3 576.8 L527.0 542.6Z" fill="rgb(168,168,168)" opacity="0.8"/>
<path d="M536.6 542.6 L536.9 576.8 L537.3 611.0 L537.7 645.2 L538.1 679.4 L538.6 713.6 L539.1 747.8 L539.6 782.0 L540.2 816.2 L540.8 850.4 L541.5 884.6 L542.3 918.8 L543.1 953.0 L547.1 953.0 L546.3 918.8 L545.5 884.6 L544.8 850.4 L544.2 816.2 L543.6 782.0 L543.1 747.8 L542.6 713.6 L542.1 679.4 L541.7 645.2 L541.3 611.0 L540.9 576.8 L540.6 542.6Z" fill="rgb(177,177,177)" opacity="0.85"/>
<path d="M555.0 542.6 L555.3 576.8 L555.6 611.0 L556.0 645.2 L556.4 679.4 L556.8 713.6 L557.3 747.8 L557.8 782.0 L558.3 816.2 L558.9 850.4 L559.5 884.6 L560.2 918.8 L561.0 953.0 L579.0 953.0 L578.0 918.8 L577.0 884.6 L576.2 850.4 L575.4 816.2 L574.7 782.0 L574.0 747.8 L573.4 713.6 L572.9 679.4 L572.3 645.2 L571.9 611.0 L571.4 576.8 L571.0 542.6Z" fill="rgb(177,177,177)" opacity="0.85"/>
<path d="M577.5 542.6 L577.8 576.8 L578.2 611.0 L578.6 645.2 L579.0 679.4 L579.5 713.6 L580.0 747.8 L580.5 782.0 L581.1 816.2 L581.7 850.4 L582.4 884.6 L583.2 918.8 L584.0 953.0 L588.0 953.0 L587.2 918.8 L586.4 884.6 L585.7 850.4 L585.1 816.2 L584.5 782.0 L584.0 747.8 L583.5 713.6 L583.0 679.4 L582.6 645.2 L582.2 611.0 L581.8 576.8 L581.5 542.6Z" fill="rgb(142,142,142)" opacity="0.6"/>
<path d="M589.6 542.6 L589.9 576.8 L590.3 611.0 L590.7 645.2 L591.1 679.4 L591.6 713.6 L592.1 747.8 L592.6 782.0 L593.2 816.2 L593.8 850.4 L594.5 884.6 L595.3 918.8 L596.1 953.0 L599.3 953.0 L598.5 918.8 L597.7 884.6 L597.0 850.4 L596.4 816.2 L595.8 782.0 L595.3 747.8 L594.8 713.6 L594.3 679.4 L593.9 645.2 L593.5 611.0 L593.1 576.8 L592.8 542.6Z" fill="rgb(177,177,177)" opacity="0.9"/>
<path d="M603.1 542.6 L603.5 576.8 L603.9 611.0 L604.3 645.2 L604.7 679.4 L605.2 713.6 L605.8 747.8 L606.3 782.0 L607.0 816.2 L607.6 850.4 L608.4 884.6 L609.2 918.8 L610.1 953.0 L614.1 953.0 L613.2 918.8 L612.4 884.6 L611.6 850.4 L611.0 816.2 L610.3 782.0 L609.8 747.8 L609.2 713.6 L608.7 679.4 L608.3 645.2 L607.9 611.0 L607.5 576.8 L607.1 542.6Z" fill="rgb(174,174,174)" opacity="0.85"/>
<path d="M627.4 542.6 L627.7 576.8 L628.1 611.0 L628.5 645.2 L628.9 679.4 L629.4 713.6 L629.9 747.8 L630.4 782.0 L631.0 816.2 L631.6 850.4 L632.3 884.6 L633.1 918.8 L633.9 953.0 L638.1 953.0 L637.3 918.8 L636.5 884.6 L635.8 850.4 L635.2 816.2 L634.6 782.0 L634.1 747.8 L633.6 713.6 L633.1 679.4 L632.7 645.2 L632.3 611.0 L631.9 576.8 L631.6 542.6Z" fill="rgb(160,160,160)" opacity="0.8"/>
<path d="M640.5 542.6 L640.8 576.8 L641.2 611.0 L641.6 645.2 L642.0 679.4 L642.5 713.6 L643.0 747.8 L643.5 782.0 L644.1 816.2 L644.7 850.4 L645.4 884.6 L646.2 918.8 L647.0 953.0 L650.0 953.0 L649.2 918.8 L648.4 884.6 L647.7 850.4 L647.1 816.2 L646.5 782.0 L646.0 747.8 L645.5 713.6 L645.0 679.4 L644.6 645.2 L644.2 611.0 L643.8 576.8 L643.5 542.6Z" fill="rgb(149,149,149)" opacity="0.7"/>
<path d="M671.0 542.6 L671.3 576.8 L671.7 611.0 L672.1 645.2 L672.5 679.4 L673.0 713.6 L673.5 747.8 L674.0 782.0 L674.6 816.2 L675.2 850.4 L675.9 884.6 L676.7 918.8 L677.5 953.0 L681.5 953.0 L680.7 918.8 L679.9 884.6 L679.2 850.4 L678.6 816.2 L678.0 782.0 L677.5 747.8 L677.0 713.6 L676.5 679.4 L676.1 645.2 L675.7 611.0 L675.3 576.8 L675.0 542.6Z" fill="rgb(142,142,142)" opacity="0.6"/>
<path d="M694.1 542.6 L694.4 576.8 L694.6 611.0 L694.9 645.2 L695.3 679.4 L695.6 713.6 L696.0 747.8 L696.4 782.0 L696.9 816.2 L697.3 850.4 L697.9 884.6 L698.5 918.8 L699.1 953.0 L703.7 953.0 L703.1 918.8 L702.5 884.6 L701.9 850.4 L701.5 816.2 L701.0 782.0 L700.6 747.8 L700.2 713.6 L699.9 679.4 L699.5 645.2 L699.2 611.0 L699.0 576.8 L698.7 542.6Z" fill="rgb(168,168,168)" opacity="0.85"/>
<path d="M726.6 542.6 L727.0 576.8 L727.4 611.0 L727.7 645.2 L728.2 679.4 L728.6 713.6 L729.1 747.8 L729.7 782.0 L730.2 816.2 L730.9 850.4 L731.6 884.6 L732.3 918.8 L733.1 953.0 L736.4 953.0 L735.6 918.8 L734.9 884.6 L734.2 850.4 L733.5 816.2 L733.0 782.0 L732.4 747.8 L731.9 713.6 L731.5 679.4 L731.0 645.2 L730.7 611.0 L730.3 576.8 L729.9 542.6Z" fill="rgb(142,142,142)" opacity="0.6"/>
</g>
<g filter="url(#sb)">
<path d="M436.4 542.6 L436.7 576.8 L437.1 611.0 L437.5 645.2 L437.9 679.4 L438.4 713.6 L438.9 747.8 L439.4 782.0 L440.0 816.2 L440.6 850.4 L441.3 884.6 L442.1 918.8 L442.9 953.0 L445.1 953.0 L444.3 918.8 L443.5 884.6 L442.8 850.4 L442.2 816.2 L441.6 782.0 L441.1 747.8 L440.6 713.6 L440.1 679.4 L439.7 645.2 L439.3 611.0 L438.9 576.8 L438.6 542.6Z" fill="rgb(203,203,203)" opacity="0.95"/>
<path d="M474.3 542.6 L474.6 576.8 L475.0 611.0 L475.4 645.2 L475.8 679.4 L476.3 713.6 L476.8 747.8 L477.3 782.0 L477.9 816.2 L478.5 850.4 L479.2 884.6 L480.0 918.8 L480.8 953.0 L482.8 953.0 L482.0 918.8 L481.2 884.6 L480.5 850.4 L479.9 816.2 L479.3 782.0 L478.8 747.8 L478.3 713.6 L477.8 679.4 L477.4 645.2 L477.0 611.0 L476.6 576.8 L476.3 542.6Z" fill="rgb(174,174,174)" opacity="0.9"/>
<path d="M524.7 542.6 L525.0 576.8 L525.4 611.0 L525.8 645.2 L526.2 679.4 L526.7 713.6 L527.2 747.8 L527.7 782.0 L528.3 816.2 L528.9 850.4 L529.6 884.6 L530.4 918.8 L531.2 953.0 L533.4 953.0 L532.6 918.8 L531.8 884.6 L531.1 850.4 L530.5 816.2 L529.9 782.0 L529.4 747.8 L528.9 713.6 L528.4 679.4 L528.0 645.2 L527.6 611.0 L527.2 576.8 L526.9 542.6Z" fill="rgb(163,163,163)" opacity="0.9"/>
<path d="M554.0 542.6 L554.3 576.8 L554.7 611.0 L555.1 645.2 L555.5 679.4 L556.0 713.6 L556.5 747.8 L557.0 782.0 L557.6 816.2 L558.2 850.4 L558.9 884.6 L559.7 918.8 L560.5 953.0 L562.9 953.0 L562.1 918.8 L561.3 884.6 L560.6 850.4 L560.0 816.2 L559.4 782.0 L558.9 747.8 L558.4 713.6 L557.9 679.4 L557.5 645.2 L557.1 611.0 L556.7 576.8 L556.4 542.6Z" fill="rgb(229,229,229)" opacity="1"/>
<path d="M503.6 542.6 L503.9 576.8 L504.3 611.0 L504.6 645.2 L505.0 679.4 L505.5 713.6 L506.0 747.8 L506.5 782.0 L507.0 816.2 L507.6 850.4 L508.3 884.6 L509.0 918.8 L509.8 953.0 L514.0 953.0 L513.1 918.8 L512.3 884.6 L511.6 850.4 L510.9 816.2 L510.3 782.0 L509.8 747.8 L509.3 713.6 L508.8 679.4 L508.3 645.2 L507.9 611.0 L507.6 576.8 L507.2 542.6Z" fill="rgb(255,255,255)" opacity="1"/>
<path d="M563.0 542.6 L563.4 576.8 L563.7 611.0 L564.1 645.2 L564.6 679.4 L565.0 713.6 L565.6 747.8 L566.1 782.0 L566.7 816.2 L567.4 850.4 L568.1 884.6 L568.9 918.8 L569.8 953.0 L576.2 953.0 L575.3 918.8 L574.5 884.6 L573.7 850.4 L573.0 816.2 L572.3 782.0 L571.7 747.8 L571.2 713.6 L570.7 679.4 L570.2 645.2 L569.8 611.0 L569.4 576.8 L569.0 542.6Z" fill="rgb(255,255,255)" opacity="1"/>
</g>
</g>
<rect x="135.6" y="617.7" width="895.9999999999999" height="3.2" fill="#fff"/>
<rect x="135.6" y="642.9" width="895.9999999999999" height="3.2" fill="#fff"/>
<rect x="135.6" y="806.5" width="895.9999999999999" height="13.8" fill="#fff"/>
<path d="M135.6 944.1H149.6 M135.6 873.0H149.6 M135.6 801.9H149.6 M135.6 730.7H149.6 M135.6 659.6H149.6 M135.6 588.5H149.6 M140.4 953.0V939.5 M251.2 953.0V939.5 M362.0 953.0V939.5 M472.8 953.0V939.5 M583.6 953.0V939.5 M694.4 953.0V939.5 M805.2 953.0V939.5 M916.0 953.0V939.5 M1026.8 953.0V939.5" stroke="#e8e8e8" stroke-width="1.3" fill="none"/>
<rect x="135.6" y="542.6" width="895.9999999999999" height="410.4" fill="none" stroke="#000" stroke-width="1.2"/>
<text transform="translate(153.6,579.5) scale(0.925,1)" style="font-size:31.4px;fill:#fff">CRACO</text>
<text x="122" y="596.5" text-anchor="end" style="font-size:29px">1,000</text>
<text x="122" y="668.8" text-anchor="end" style="font-size:29px">950</text>
<text x="122" y="740.3" text-anchor="end" style="font-size:29px">900</text>
<text x="122" y="811.5" text-anchor="end" style="font-size:29px">850</text>
<text x="122" y="882.8" text-anchor="end" style="font-size:29px">800</text>
<text x="122" y="954.2" text-anchor="end" style="font-size:29px">750</text>
<text x="140.4" y="989" text-anchor="middle" style="font-size:29px">−100</text>
<text x="251.2" y="989" text-anchor="middle" style="font-size:29px">−75</text>
<text x="362.0" y="989" text-anchor="middle" style="font-size:29px">−50</text>
<text x="472.8" y="989" text-anchor="middle" style="font-size:29px">−25</text>
<text x="583.6" y="989" text-anchor="middle" style="font-size:29px">0</text>
<text x="694.4" y="989" text-anchor="middle" style="font-size:29px">25</text>
<text x="805.2" y="989" text-anchor="middle" style="font-size:29px">50</text>
<text x="916.0" y="989" text-anchor="middle" style="font-size:29px">75</text>
<text x="1026.8" y="989" text-anchor="middle" style="font-size:29px">100</text>
<text x="583.5" y="1035.6" text-anchor="middle" style="font-size:28px">Time (s)</text>
<text transform="translate(22.8,747.8) rotate(-90)" x="0" y="0" text-anchor="middle" style="font-size:28.5px;letter-spacing:0.25px">Frequency (MHz)</text>
</svg></body></html>
